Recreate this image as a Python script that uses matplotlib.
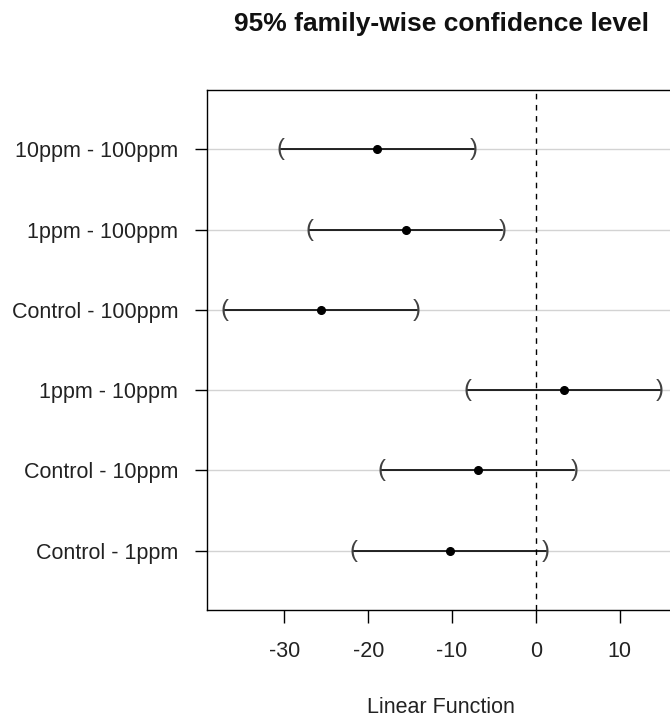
import matplotlib
matplotlib.use("Agg")
import matplotlib.pyplot as plt

plt.rcParams['font.family'] = ['Liberation Sans', 'DejaVu Sans']

# comparisons, top to bottom
comparisons = ['10ppm - 100ppm', '1ppm - 100ppm', 'Control - 100ppm',
               '1ppm - 10ppm', 'Control - 10ppm', 'Control - 1ppm']
estimate = [-18.9, -15.5, -25.65, 3.3, -6.9, -10.3]
lower = [-30.45, -27.05, -37.15, -8.2, -18.45, -21.8]
upper = [-7.4, -4.0, -14.15, 14.8, 4.6, 1.2]

fig = plt.figure(figsize=(6.7, 7.18), dpi=100)
ax = fig.add_axes([0.3094, 0.1504, 0.7093, 0.7243])

n = len(comparisons)
ypos = list(range(n, 0, -1))

for y in ypos:
    ax.axhline(y, color='#d3d3d3', lw=1, zorder=1)

ax.axvline(0, color='black', ls=(0, (4, 4)), lw=1, zorder=2)

for y, est, lo, hi in zip(ypos, estimate, lower, upper):
    ax.plot([lo, hi], [y, y], color='black', lw=1.2, zorder=3)
    ax.text(lo, y, '(', ha='center', va='center', fontsize=17, color='#404040', zorder=4)
    ax.text(hi, y, ')', ha='center', va='center', fontsize=17, color='#404040', zorder=4)
    ax.plot(est, y, 'o', color='black', ms=5.5, zorder=5)

ax.set_xlim(-39.2, 17.5)
ax.set_ylim(0.26, 6.74)
ax.set_xticks([-30, -20, -10, 0, 10])
ax.set_xticklabels(['-30', '-20', '-10', '0', '10'])
ax.set_yticks(ypos)
ax.set_yticklabels(comparisons)
ax.tick_params(axis='x', length=9, width=1, pad=13, labelsize=15.5, labelcolor='#222222')
ax.tick_params(axis='y', length=9, width=1, pad=12, labelsize=15.5, labelcolor='#222222')
for s in ax.spines.values():
    s.set_linewidth(1)
ax.spines['right'].set_visible(False)

fig.text(441 / 670, 1 - 31 / 718, '95% family-wise confidence level', ha='center', va='baseline',
         fontsize=19, fontweight='bold', color='#111111')
fig.text(441 / 670, 1 - 713 / 718, 'Linear Function', ha='center', va='baseline',
         fontsize=15.5, color='#222222')

fig.savefig('out.png', dpi=100)
